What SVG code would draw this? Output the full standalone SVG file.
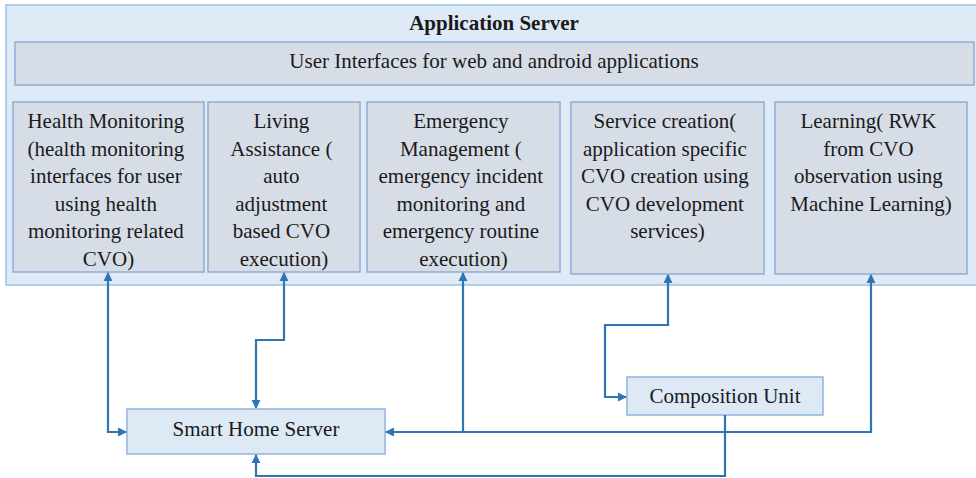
<svg xmlns="http://www.w3.org/2000/svg" width="976" height="478" viewBox="0 0 976 478">
  <style>
    .t { font-family: "Liberation Serif", "Times New Roman", serif; font-size: 21px; fill: #1a1a1a; text-anchor: middle; }
    .title { font-weight: bold; font-size: 21px; }
    .container { fill: #deeaf5; stroke: #9cc0e6; stroke-width: 1.5; }
    .bar { fill: #d7dde6; stroke: #8fadd6; stroke-width: 1.5; }
    .module { fill: #d7dde6; stroke: #8fadd6; stroke-width: 1.5; }
    .unit { fill: #dde9f5; stroke: #8fb5e2; stroke-width: 1.5; }
    .wire { fill: none; stroke: #2e75b6; stroke-width: 2.2; }
  </style>
  <defs>
    <marker id="arrow" viewBox="0 0 10 10" refX="9" refY="5" markerWidth="4.2" markerHeight="4.2" orient="auto-start-reverse" markerUnits="strokeWidth">
      <path d="M0,0 L10,5 L0,10 z" fill="#2e75b6"/>
    </marker>
  </defs>

  <rect width="976" height="478" fill="#ffffff"/>

  <!-- Application server container -->
  <g id="application-server">
    <rect class="container" x="6" y="5" width="974" height="280"/>
    <text class="t title" x="494" y="30">Application Server</text>
  </g>

  <g id="user-interfaces">
    <rect class="bar" x="15" y="42" width="959" height="43"/>
    <text class="t" x="494" y="68">User Interfaces for web and android applications</text>
  </g>

  <g id="health-monitoring">
    <rect class="module" x="13" y="102" width="191" height="170"/>
    <text class="t">
      <tspan x="108.5" y="128">Health Monitoring</tspan>
      <tspan x="108.5" y="155.5">(health monitoring</tspan>
      <tspan x="108.5" y="183">interfaces for user</tspan>
      <tspan x="108.5" y="210.5">using health</tspan>
      <tspan x="108.5" y="238">monitoring related</tspan>
      <tspan x="108.5" y="265.5">CVO)</tspan>
    </text>
  </g>

  <g id="living-assistance">
    <rect class="module" x="208" y="102" width="152" height="170"/>
    <text class="t">
      <tspan x="284" y="128">Living</tspan>
      <tspan x="284" y="155.5">Assistance (</tspan>
      <tspan x="284" y="183">auto</tspan>
      <tspan x="284" y="210.5">adjustment</tspan>
      <tspan x="284" y="238">based CVO</tspan>
      <tspan x="284" y="265.5">execution)</tspan>
    </text>
  </g>

  <g id="emergency-management">
    <rect class="module" x="367" y="102" width="193" height="170"/>
    <text class="t">
      <tspan x="463.5" y="128">Emergency</tspan>
      <tspan x="463.5" y="155.5">Management (</tspan>
      <tspan x="463.5" y="183">emergency incident</tspan>
      <tspan x="463.5" y="210.5">monitoring and</tspan>
      <tspan x="463.5" y="238">emergency routine</tspan>
      <tspan x="463.5" y="265.5">execution)</tspan>
    </text>
  </g>

  <g id="service-creation">
    <rect class="module" x="571" y="102" width="193" height="172"/>
    <text class="t">
      <tspan x="667.5" y="128">Service creation(</tspan>
      <tspan x="667.5" y="155.5">application specific</tspan>
      <tspan x="667.5" y="183">CVO creation using</tspan>
      <tspan x="667.5" y="210.5">CVO development</tspan>
      <tspan x="667.5" y="238">services)</tspan>
    </text>
  </g>

  <g id="learning">
    <rect class="module" x="775" y="102" width="192" height="172"/>
    <text class="t">
      <tspan x="871" y="128">Learning( RWK</tspan>
      <tspan x="871" y="155.5">from CVO</tspan>
      <tspan x="871" y="183">observation using</tspan>
      <tspan x="871" y="210.5">Machine Learning)</tspan>
    </text>
  </g>

  <g id="smart-home-server">
    <rect class="unit" x="127" y="409" width="258" height="45"/>
    <text class="t" x="256" y="436">Smart Home Server</text>
  </g>

  <g id="composition-unit">
    <rect class="unit" x="627" y="377" width="196" height="38"/>
    <text class="t" x="725" y="403">Composition Unit</text>
  </g>

  <!-- Connectors -->
  <g id="connectors">
    <path class="wire" d="M108,273 V432 H126" marker-start="url(#arrow)" marker-end="url(#arrow)"/>
    <path class="wire" d="M284,273 V340 H256 V408" marker-start="url(#arrow)" marker-end="url(#arrow)"/>
    <path class="wire" d="M871,275 V432 H386" marker-start="url(#arrow)" marker-end="url(#arrow)"/>
    <path class="wire" d="M463,273 V432" marker-start="url(#arrow)"/>
    <path class="wire" d="M668,275 V325 H605 V397 H626" marker-start="url(#arrow)" marker-end="url(#arrow)"/>
    <path class="wire" d="M725,415 V476 H256 V455" marker-end="url(#arrow)"/>
  </g>
</svg>
